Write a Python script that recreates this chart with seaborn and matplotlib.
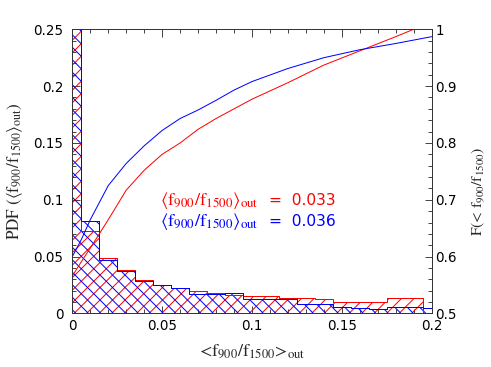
import numpy as np
import pandas as pd
import matplotlib
matplotlib.use("Agg")
import matplotlib.pyplot as plt
import seaborn as sns
from matplotlib.ticker import MultipleLocator

# ---- data ----
bin_centers = [0.00, 0.01, 0.02, 0.03, 0.04, 0.05, 0.06, 0.07, 0.08, 0.09, 0.10,
               0.11, 0.12, 0.13, 0.14, 0.15, 0.16, 0.17, 0.18, 0.19, 0.20]
pdf_red = [0.57, 0.073, 0.049, 0.038, 0.0294, 0.025, 0.0227, 0.0198, 0.0178, 0.016, 0.0157,
           0.0157, 0.0139, 0.0139, 0.0125, 0.0105, 0.0102, 0.0102, 0.0132, 0.0132, 0.0]
pdf_blue = [0.60, 0.081, 0.047, 0.037, 0.0286, 0.025, 0.0227, 0.017, 0.017, 0.0178, 0.0125,
            0.0125, 0.0125, 0.0085, 0.0085, 0.006, 0.0046, 0.0037, 0.0055, 0.0055, 0.0046]

cdf_x = [0.0, 0.005, 0.01, 0.02, 0.03, 0.04, 0.05, 0.06, 0.07, 0.08, 0.09, 0.10,
         0.12, 0.14, 0.16, 0.18, 0.19, 0.20]
cdf_red = [0.566, 0.591, 0.615, 0.665, 0.717, 0.752, 0.78, 0.80, 0.824, 0.843, 0.860, 0.877,
           0.906, 0.937, 0.962, 0.987, 1.0, 1.0]
cdf_blue = [0.60, 0.63, 0.665, 0.725, 0.764, 0.795, 0.822, 0.843, 0.858, 0.875, 0.893, 0.908,
            0.931, 0.950, 0.964, 0.975, 0.981, 0.987]

mean_red = "0.033"
mean_blue = "0.036"

bin_edges = [round(-0.005 + 0.01 * i, 4) for i in range(22)]

hist_df = pd.DataFrame({
    "x": bin_centers * 2,
    "w": pdf_red + pdf_blue,
    "set": ["red"] * len(bin_centers) + ["blue"] * len(bin_centers),
})

# ---- style ----
DPI = 75
PX = 72.0 / DPI   # points per pixel

sns.set_style("ticks")
plt.rcParams["font.family"] = ["DejaVu Sans"]
plt.rcParams["mathtext.fontset"] = "stix"
plt.rcParams["hatch.linewidth"] = 1.0 * PX
plt.rcParams["xtick.direction"] = "in"
plt.rcParams["ytick.direction"] = "in"

fig = plt.figure(figsize=(491 / DPI, 367 / DPI), dpi=DPI)
ax = fig.add_axes([0.1473, 0.1458, 0.7317, 0.7744])

specs = [("red", "#ff0000", "//"), ("blue", "#0000ff", "\\\\")]
# hatched bars (no edge)
for name, col, hatch in specs:
    sub = hist_df[hist_df["set"] == name]
    sns.histplot(data=sub, x="x", weights="w", bins=bin_edges, stat="count",
                 element="bars", fill=True, ax=ax, color=col,
                 facecolor="none", edgecolor=col, hatch=hatch, linewidth=0)
# step outlines
for name, col, hatch in specs:
    sub = hist_df[hist_df["set"] == name]
    sns.histplot(data=sub, x="x", weights="w", bins=bin_edges, stat="count",
                 element="step", fill=False, ax=ax, color=col,
                 linewidth=1.0 * PX)

ax.set_xlim(0, 0.2)
ax.set_ylim(0, 0.25)
ax.xaxis.set_minor_locator(MultipleLocator(0.01))
ax.yaxis.set_minor_locator(MultipleLocator(0.01))
ax.set_xticks([0, 0.05, 0.1, 0.15, 0.2])
ax.set_xticklabels(["0", "0.05", "0.1", "0.15", "0.2"])
ax.set_yticks([0, 0.05, 0.1, 0.15, 0.2, 0.25])
ax.set_yticklabels(["0", "0.05", "0.1", "0.15", "0.2", "0.25"])
ax.tick_params(which="both", top=True, right=False, direction="in", width=0.9 * PX,
               labelsize=13.5 * PX, colors="#333333", labelcolor="black")
ax.tick_params(which="major", length=7.5 * PX)
ax.tick_params(which="minor", length=4 * PX)
ax.tick_params(axis="x", pad=6 * PX)
ax.tick_params(axis="y", pad=9 * PX)

ax.set_xlabel(r"<$\mathrm{f}_{900}/\mathrm{f}_{1500}$>$_{\mathrm{out}}$",
              family="STIXGeneral", fontsize=18 * PX, labelpad=9 * PX)
ax.set_ylabel(r"PDF $(\langle\mathrm{f}_{900}/\mathrm{f}_{1500}\rangle_{\mathrm{out}})$",
              family="STIXGeneral", fontsize=17 * PX, labelpad=8 * PX)

ax2 = ax.twinx()
sns.lineplot(x=cdf_x, y=cdf_red, ax=ax2, color="#ff0000", linewidth=1.0 * PX)
sns.lineplot(x=cdf_x, y=cdf_blue, ax=ax2, color="#0000ff", linewidth=1.0 * PX)
ax2.set_ylim(0.5, 1.0)
ax2.set_xlim(0, 0.2)
ax2.yaxis.set_minor_locator(MultipleLocator(0.02))
ax2.set_yticks([0.5, 0.6, 0.7, 0.8, 0.9, 1.0])
ax2.set_yticklabels(["0.5", "0.6", "0.7", "0.8", "0.9", "1"])
ax2.tick_params(which="both", right=True, left=False, direction="in", width=0.9 * PX,
                labelsize=13.5 * PX, colors="#333333", labelcolor="black", pad=4 * PX)
ax2.tick_params(which="major", length=7.5 * PX)
ax2.tick_params(which="minor", length=4 * PX)
ax2.set_ylabel(r"F(< $\mathrm{f}_{900}/\mathrm{f}_{1500}$)", family="STIXGeneral",
               fontsize=15.5 * PX)
ax2.yaxis.set_label_coords(1.105, 0.43)

for a in (ax, ax2):
    for s in a.spines.values():
        s.set_color("#333333")
        s.set_linewidth(0.9 * PX)

math_lbl = r"$\langle\mathrm{f}_{900}/\mathrm{f}_{1500}\rangle_{\mathrm{out}}$"
for yy, col, val in [(0.399, "#ff0000", mean_red), (0.323, "#0000ff", mean_blue)]:
    ax.text(0.244, yy, math_lbl, transform=ax.transAxes, color=col,
            fontsize=18.5 * PX, ha="left", va="center")
    ax.text(0.547, yy, "=  " + val, transform=ax.transAxes, color=col,
            fontsize=15.5 * PX, ha="left", va="center")

fig.savefig("out.png", dpi=DPI)
